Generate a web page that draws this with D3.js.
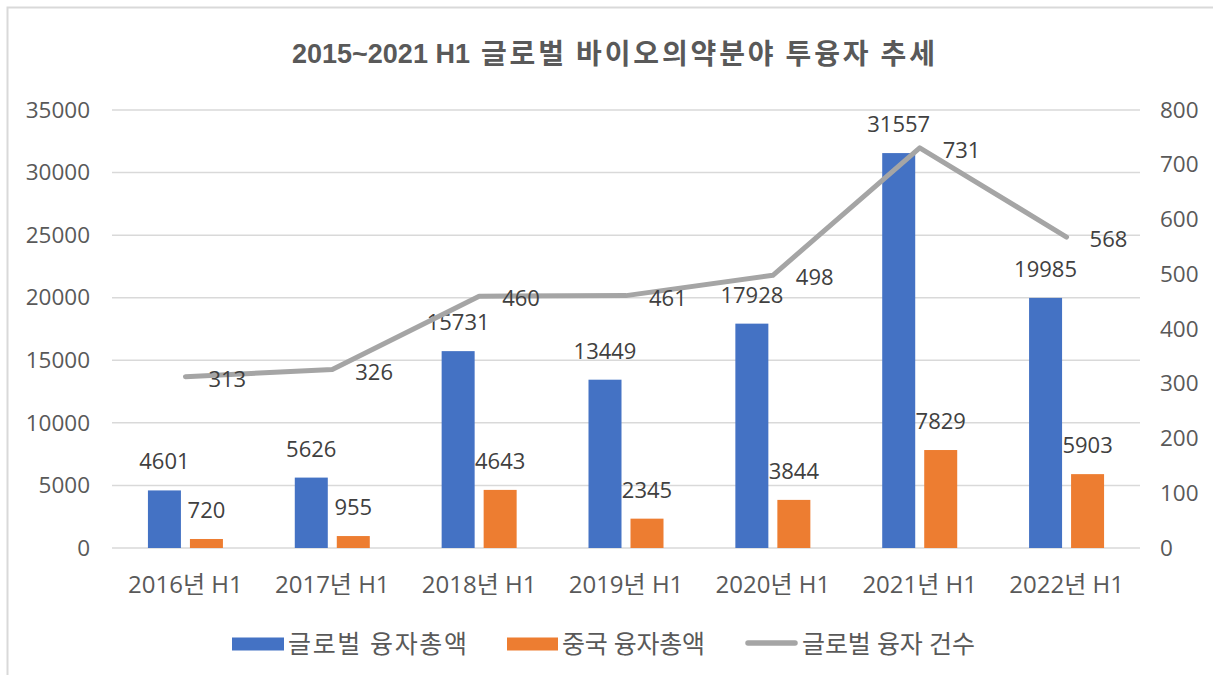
<!DOCTYPE html>
<html>
<head>
<meta charset="utf-8">
<script src="https://cdn.jsdelivr.net/npm/d3@7"></script>
<style>
  body { margin: 0; background: #fff; }
  text { font-family: "Open Sans", "Noto Sans CJK KR", sans-serif; }
</style>
</head>
<body>
<div id="chart"></div>
<script>
const categories = ["2016년 H1", "2017년 H1", "2018년 H1", "2019년 H1", "2020년 H1", "2021년 H1", "2022년 H1"];
const globalAmount = [4601, 5626, 15731, 13449, 17928, 31557, 19985];
const chinaAmount = [720, 955, 4643, 2345, 3844, 7829, 5903];
const globalCount = [313, 326, 460, 461, 498, 731, 568];
const seriesNames = ["글로벌 융자총액", "중국 융자총액", "글로벌 융자 건수"];
const leftTicks = [0, 5000, 10000, 15000, 20000, 25000, 30000, 35000];
const rightTicks = [0, 100, 200, 300, 400, 500, 600, 700, 800];

const W = 1213, H = 675;
const margin = {top: 110, right: 73, bottom: 127, left: 112};
const width = W - margin.left - margin.right,
      height = H - margin.top - margin.bottom;

const svgRoot = d3.select("#chart").append("svg")
  .attr("width", W).attr("height", H);

// chart border
svgRoot.append("rect")
  .attr("x", 7.5).attr("y", 7.5)
  .attr("width", W + 20).attr("height", H + 20)
  .attr("fill", "none").attr("stroke", "#d9d9d9").attr("stroke-width", 2);

// title (latin part + korean part)
svgRoot.append("text")
  .attr("x", 292).attr("y", 63)
  .style("font-family", "'Liberation Sans', Arial, sans-serif")
  .style("font-size", "27px").style("font-weight", "bold")
  .attr("fill", "#595959")
  .text("2015~2021 H1");
svgRoot.append("text")
  .attr("x", 481).attr("y", 64)
  .attr("textLength", 454).attr("lengthAdjust", "spacing")
  .style("font-family", "'Noto Sans CJK KR', sans-serif")
  .style("font-size", "28px").style("font-weight", "bold")
  .attr("fill", "#595959")
  .text("글로벌 바이오의약분야 투융자 추세");

const svg = svgRoot.append("g")
  .attr("transform", `translate(${margin.left},${margin.top})`);

const x = d3.scaleBand().domain(categories).range([0, width]);
const yL = d3.scaleLinear().domain([0, 35000]).range([height, 0]);
const yR = d3.scaleLinear().domain([0, 800]).range([height, 0]);

// gridlines
svg.append("g").selectAll("line")
  .data(leftTicks)
  .join("line")
  .attr("x1", 0).attr("x2", width)
  .attr("y1", d => yL(d)).attr("y2", d => yL(d))
  .attr("stroke", "#d9d9d9").attr("stroke-width", 1.5);

// left axis
const leftAxis = svg.append("g")
  .call(d3.axisLeft(yL).tickValues(leftTicks).tickFormat(d3.format("d")).tickSize(0).tickPadding(22));
leftAxis.select(".domain").remove();
leftAxis.selectAll("text")
  .style("font-size", "22.5px").attr("fill", "#595959")
  .style("font-family", "'Open Sans', sans-serif");

// right axis
const rightAxis = svg.append("g")
  .attr("transform", `translate(${width},0)`)
  .call(d3.axisRight(yR).tickValues(rightTicks).tickFormat(d3.format("d")).tickSize(0).tickPadding(20));
rightAxis.select(".domain").remove();
rightAxis.selectAll("text")
  .style("font-size", "22.5px").attr("fill", "#595959")
  .style("font-family", "'Open Sans', sans-serif");

// x axis
const xAxis = svg.append("g")
  .attr("transform", `translate(0,${height})`)
  .call(d3.axisBottom(x).tickSize(0).tickPadding(28));
xAxis.select(".domain").remove();
xAxis.selectAll("text")
  .style("font-size", "24px").attr("fill", "#595959");

// bars
const barW = 33, gap = 9;
const cx = d => x(d) + x.bandwidth() / 2;

svg.append("g").selectAll("rect")
  .data(categories)
  .join("rect")
  .attr("x", d => cx(d) - gap / 2 - barW)
  .attr("y", (d, i) => yL(globalAmount[i]))
  .attr("width", barW)
  .attr("height", (d, i) => height - yL(globalAmount[i]))
  .attr("fill", "#4472c4");

svg.append("g").selectAll("rect")
  .data(categories)
  .join("rect")
  .attr("x", d => cx(d) + gap / 2)
  .attr("y", (d, i) => yL(chinaAmount[i]))
  .attr("width", barW)
  .attr("height", (d, i) => height - yL(chinaAmount[i]))
  .attr("fill", "#ed7d31");

// bar labels
svg.append("g").selectAll("text")
  .data(categories)
  .join("text")
  .attr("x", d => cx(d) - gap / 2 - barW / 2)
  .attr("y", (d, i) => yL(globalAmount[i]) - 21)
  .attr("text-anchor", "middle")
  .style("font-size", "22px").attr("fill", "#404040")
  .text((d, i) => globalAmount[i]);

svg.append("g").selectAll("text")
  .data(categories)
  .join("text")
  .attr("x", d => cx(d) + gap / 2 + barW / 2)
  .attr("y", (d, i) => yL(chinaAmount[i]) - 21)
  .attr("text-anchor", "middle")
  .style("font-size", "22px").attr("fill", "#404040")
  .text((d, i) => chinaAmount[i]);

// line
const line = d3.line()
  .x((d, i) => cx(categories[i]))
  .y(d => yR(d));

svg.append("path")
  .datum(globalCount)
  .attr("d", line)
  .attr("fill", "none")
  .attr("stroke", "#a5a5a5")
  .attr("stroke-width", 5)
  .attr("stroke-linecap", "round")
  .attr("stroke-linejoin", "round");

svg.append("g").selectAll("text")
  .data(globalCount)
  .join("text")
  .attr("x", (d, i) => cx(categories[i]) + 23)
  .attr("y", d => yR(d) + 10)
  .style("font-size", "22px").attr("fill", "#404040")
  .text(d => d);

// legend
const legend = svgRoot.append("g").attr("transform", "translate(0,644)");
const legendItems = [
  {name: seriesNames[0], color: "#4472c4", type: "rect", x: 232, w: 52, len: 179},
  {name: seriesNames[1], color: "#ed7d31", type: "rect", x: 507, w: 51, len: 143},
  {name: seriesNames[2], color: "#a5a5a5", type: "line", x: 745, w: 53, len: 173}
];
legendItems.forEach(item => {
  if (item.type === "rect") {
    legend.append("rect")
      .attr("x", item.x).attr("y", -6.5)
      .attr("width", item.w).attr("height", 13)
      .attr("fill", item.color);
  } else {
    legend.append("line")
      .attr("x1", item.x + 3).attr("x2", item.x + item.w - 3)
      .attr("y1", -1).attr("y2", -1)
      .attr("stroke", item.color).attr("stroke-width", 5.5)
      .attr("stroke-linecap", "round");
  }
  legend.append("text")
    .attr("x", item.x + item.w + 4).attr("y", 9)
    .attr("textLength", item.len).attr("lengthAdjust", "spacing")
    .style("font-size", "25px").attr("fill", "#595959")
    .text(item.name);
});
</script>
</body>
</html>
